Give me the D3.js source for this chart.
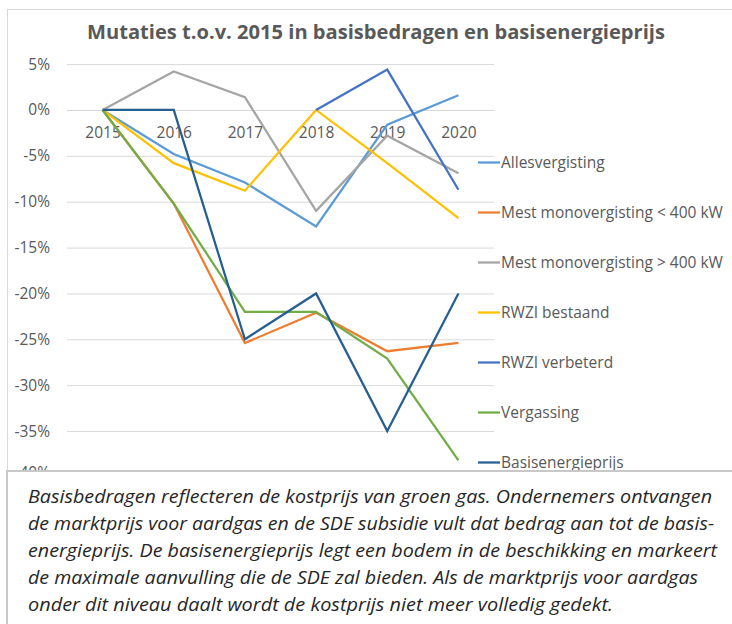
<!DOCTYPE html>
<html>
<head>
<meta charset="utf-8">
<script src="https://cdn.jsdelivr.net/npm/d3@7"></script>
<style>
  html, body { margin: 0; padding: 0; background: #ffffff; }
  svg { display: block; }
</style>
</head>
<body>
<svg id="chart" width="732" height="624"></svg>
<script>
const years = ["2015", "2016", "2017", "2018", "2019", "2020"];
const yTicks = [5, 0, -5, -10, -15, -20, -25, -30, -35, -40];

const allesvergisting   = [0, -4.8, -7.9, -12.7, -1.6, 1.6];
const mestKlein         = [0, -10.2, -25.4, -22.1, -26.3, -25.4];
const mestGroot         = [0, 4.2, 1.4, -11.0, -2.8, -6.9];
const rwziBestaand      = [0, -5.8, -8.8, 0, -5.8, -11.8];
const rwziVerbeterd     = [null, null, null, 0, 4.4, -8.7];
const vergassing        = [0, -10.2, -22.0, -22.0, -27.1, -38.2];
const basisenergieprijs = [0, 0, -25.0, -20.0, -35.0, -20.0];

const seriesNames = [
  "Allesvergisting",
  "Mest monovergisting < 400 kW",
  "Mest monovergisting > 400 kW",
  "RWZI bestaand",
  "RWZI verbeterd",
  "Vergassing",
  "Basisenergieprijs"
];
const seriesValues = [allesvergisting, mestKlein, mestGroot, rwziBestaand, rwziVerbeterd, vergassing, basisenergieprijs];
const seriesColors = ["#5B9BD5", "#ED7D31", "#A5A5A5", "#FFC000", "#4472C4", "#70AD47", "#255E91"];

const titleText = "Mutaties t.o.v. 2015 in basisbedragen en basisenergieprijs";
const noteLines = [
  "Basisbedragen reflecteren de kostprijs van groen gas. Ondernemers ontvangen",
  "de marktprijs voor aardgas en de SDE subsidie vult dat bedrag aan tot de basis-",
  "energieprijs. De basisenergieprijs legt een bodem in de beschikking en markeert",
  "de maximale aanvulling die de SDE zal bieden. Als de marktprijs voor aardgas",
  "onder dit niveau daalt wordt de kostprijs niet meer volledig gedekt."
];
const noteWidths = [684, 686, 689, 670, 585];

const svg = d3.select("#chart");
const textColor = "#595959";

// chart outer border
svg.append("rect")
  .attr("x", 7.5).attr("y", 9.5)
  .attr("width", 740).attr("height", 700)
  .attr("fill", "#fff").attr("stroke", "#d9d9d9").attr("stroke-width", 1);

// title
svg.append("text")
  .attr("x", 87).attr("y", 39)
  .attr("textLength", 578).attr("lengthAdjust", "spacingAndGlyphs")
  .attr("font-family", "'Open Sans', sans-serif")
  .attr("font-weight", "bold")
  .attr("font-size", 19)
  .attr("fill", textColor)
  .text(titleText);

const x = d3.scalePoint().domain(years).range([67, 494]).padding(0.5);
const y = d3.scaleLinear().domain([-40, 5]).range([476.9, 64.1]);

// gridlines
const yAxis = d3.axisLeft(y).tickValues(yTicks).tickSize(-(494 - 67)).tickFormat(d => d + "%");
const gy = svg.append("g").attr("transform", "translate(67,0)").call(yAxis);
gy.select(".domain").remove();
gy.selectAll(".tick line").attr("stroke", "#d9d9d9").attr("stroke-width", 1);
gy.selectAll(".tick text")
  .attr("x", -17)
  .attr("font-family", "'Open Sans', sans-serif")
  .attr("font-size", 15.5)
  .attr("fill", textColor);
// lowest label sits mostly behind the note box, as in the original
gy.selectAll(".tick").filter(d => d === -40).select("text").attr("dy", "0.05em");

// category axis at zero
const xAxis = d3.axisBottom(x).tickSize(0).tickPadding(17);
const gx = svg.append("g").attr("transform", `translate(0,${y(0)})`).call(xAxis);
gx.select(".domain").attr("stroke", "#d9d9d9");
gx.selectAll(".tick text")
  .attr("font-family", "'Open Sans', sans-serif")
  .attr("font-size", 15.5)
  .attr("fill", textColor);

// lines
const line = d3.line()
  .defined(d => d.v !== null)
  .x(d => x(d.year))
  .y(d => y(d.v));

seriesValues.forEach((vals, i) => {
  svg.append("path")
    .datum(vals.map((v, j) => ({ year: years[j], v })))
    .attr("fill", "none")
    .attr("stroke", seriesColors[i])
    .attr("stroke-width", 2.25)
    .attr("stroke-linejoin", "miter")
    .attr("d", line);
});

// legend
const legend = svg.append("g");
seriesNames.forEach((name, i) => {
  const ly = 162.5 + i * 50;
  legend.append("line")
    .attr("x1", 478).attr("x2", 500)
    .attr("y1", ly).attr("y2", ly)
    .attr("stroke", seriesColors[i]).attr("stroke-width", 2.25);
  legend.append("text")
    .attr("x", 501).attr("y", ly)
    .attr("dy", "0.36em")
    .attr("font-family", "'Open Sans', sans-serif")
    .attr("font-size", 15.5)
    .attr("fill", textColor)
    .text(name);
});

// note box
svg.append("rect")
  .attr("x", 7).attr("y", 471)
  .attr("width", 740).attr("height", 200)
  .attr("fill", "#fff").attr("stroke", "#c8c8c8").attr("stroke-width", 2);

noteLines.forEach((t, i) => {
  svg.append("text")
    .attr("x", 28).attr("y", 503 + i * 27)
    .attr("textLength", noteWidths[i]).attr("lengthAdjust", "spacingAndGlyphs")
    .attr("font-family", "'Open Sans', sans-serif")
    .attr("font-style", "italic")
    .attr("font-size", 18.5)
    .attr("fill", "#262626")
    .text(t);
});
</script>
</body>
</html>
